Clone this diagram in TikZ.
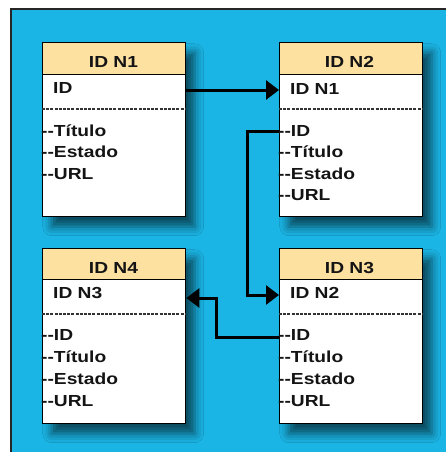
\documentclass[tikz,border=0pt]{standalone}
\usepackage{fontspec}
\setmainfont{Liberation Sans}
\newfontfamily\tabfont[FakeStretch=1.2]{Liberation Sans}
\usetikzlibrary{arrows.meta,calc,shadows.blur}

\definecolor{panelblue}{RGB}{27,181,229}
\definecolor{headtan}{RGB}{253,225,161}
\definecolor{inkdark}{RGB}{20,20,20}

\begin{document}
\begin{tikzpicture}[x=1pt,y=-1pt,
  tableframe/.style={draw=black, line width=1.4pt, fill=white, inner sep=0pt,
    minimum width=143pt, minimum height=174pt, anchor=north west,
    blur shadow={shadow xshift=9pt, shadow yshift=-10pt, shadow blur radius=9pt,
      shadow opacity=60}},
  tablehead/.style={draw=black, line width=1.4pt, fill=headtan, inner sep=0pt,
    minimum width=143pt, minimum height=32pt, anchor=north west},
  headtext/.style={font=\tabfont\bfseries\fontsize{16}{18}\selectfont,
    text=inkdark, inner sep=0pt, anchor=base},
  rowtext/.style={font=\tabfont\bfseries\fontsize{16}{18}\selectfont,
    text=inkdark, inner sep=0pt, anchor=base west},
  separator/.style={line width=1.9pt, draw=black!80, dash pattern=on 3pt off 1.2pt},
  link/.style={line width=3pt, draw=black, -{Triangle[length=13pt,width=19pt]}},
]
\useasboundingbox (0,0) rectangle (445,452);

% panel background
\fill[panelblue] (11,9) rectangle (452,458);
\draw[line width=2pt, draw=black!85] (11,458) -- (11,9) -- (452,9);

% ---- table N1 ----
\node[tableframe] (n1) at (42,42) {};
\node[tablehead] (n1h) at (42,42) {};
\node[headtext] (n1t) at (113.5,67) {ID N1};
\node[rowtext] (n1a) at (53,93) {ID};
\draw[separator] ($(n1.north west)+(0,67)$) -- ($(n1.north east)+(0,67)$);
\node[rowtext] (n1b) at (41,136) {--Título};
\node[rowtext] (n1c) at (41,157.5) {--Estado};
\node[rowtext] (n1d) at (41,179) {--URL};

% ---- table N2 ----
\node[tableframe] (n2) at (279,42) {};
\node[tablehead] (n2h) at (279,42) {};
\node[headtext] (n2t) at (349.5,67) {ID N2};
\node[rowtext] (n2a) at (290,94) {ID N1};
\draw[separator] ($(n2.north west)+(0,67)$) -- ($(n2.north east)+(0,67)$);
\node[rowtext] (n2b) at (278,136) {--ID};
\node[rowtext] (n2c) at (278,157.5) {--Título};
\node[rowtext] (n2d) at (278,179) {--Estado};
\node[rowtext] (n2e) at (278,200.5) {--URL};

% ---- table N4 ----
\node[tableframe, minimum height=175pt] (n4) at (42,248) {};
\node[tablehead, minimum height=31pt] (n4h) at (42,248) {};
\node[headtext] (n4t) at (113.5,273) {ID N4};
\node[rowtext] (n4a) at (53,298) {ID N3};
\draw[separator] ($(n4.north west)+(0,66)$) -- ($(n4.north east)+(0,66)$);
\node[rowtext] (n4b) at (41,340) {--ID};
\node[rowtext] (n4c) at (41,362) {--Título};
\node[rowtext] (n4d) at (41,384) {--Estado};
\node[rowtext] (n4e) at (41,406) {--URL};

% ---- table N3 ----
\node[tableframe, minimum height=175pt] (n3) at (279,248) {};
\node[tablehead, minimum height=31pt] (n3h) at (279,248) {};
\node[headtext] (n3t) at (349.5,273) {ID N3};
\node[rowtext] (n3a) at (290,298) {ID N2};
\draw[separator] ($(n3.north west)+(0,66)$) -- ($(n3.north east)+(0,66)$);
\node[rowtext] (n3b) at (278,340) {--ID};
\node[rowtext] (n3c) at (278,362) {--Título};
\node[rowtext] (n3d) at (278,384) {--Estado};
\node[rowtext] (n3e) at (278,406) {--URL};

% ---- references between tables ----
\draw[link] ($(n1.north east)+(0,48)$) -- ($(n2.north west)+(0,48)$);
\draw[link] ($(n2.north west)+(0,89)$) -| ($(n3.north west)+(-32,47)$)
  -- ($(n3.north west)+(0,47)$);
\draw[link] ($(n3.north west)+(0,89)$) -| ($(n4.north east)+(30,50)$)
  -- ($(n4.north east)+(0,50)$);
\end{tikzpicture}
\end{document}
